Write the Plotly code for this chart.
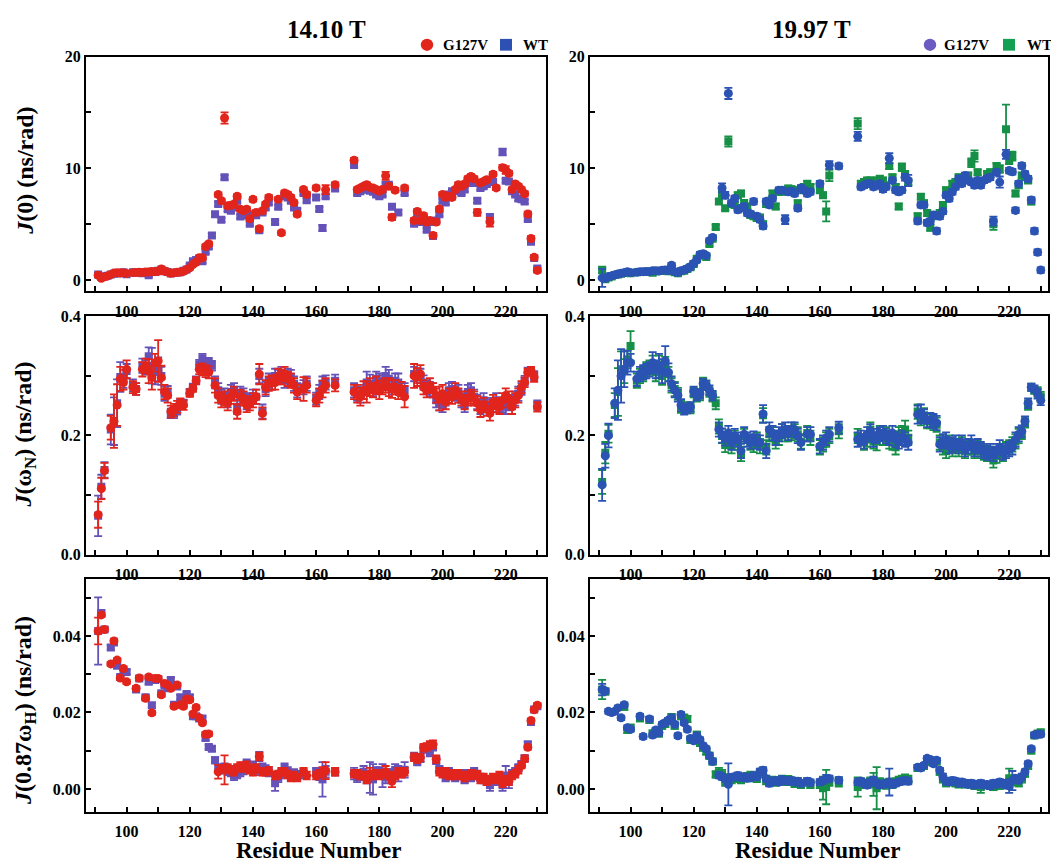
import plotly.graph_objects as go

# ---------------- data ----------------
RES = [91, 92, 93, 94, 95, 96, 97, 98, 99, 100,
       102, 103, 104, 105, 106, 107, 108, 109, 110, 111,
       112, 113, 114, 115, 116, 117, 118, 119, 120, 121,
       122, 123, 124, 125, 126, 127, 128, 129, 130, 131,
       132, 133, 134, 135, 136, 137, 138, 139, 140, 141,
       142, 143, 144, 145, 146, 147, 148, 149, 150, 151,
       152, 153, 154, 155, 156, 157,
       160, 161, 162, 163, 164, 166,
       172, 173, 174, 175, 176, 177, 178, 179, 180, 181,
       182, 183, 184, 185, 186, 187, 188,
       191, 192, 193, 194, 195, 196, 197, 198, 199, 200,
       201, 202, 203, 204, 205, 206, 207, 208, 209, 210,
       211, 212, 213, 214, 215, 216, 217, 218, 219, 220,
       221, 222, 223, 224, 225, 226, 227, 228, 229, 230]

N = None

# J(0), 14.10 T
J0_1410_G127V = [0.44, 0.17, 0.30, 0.38, 0.50, 0.65, 0.67, 0.64, 0.66, 0.60,
                 0.67, 0.68, 0.70, 0.68, 0.72, 0.73, 0.78, 0.76, 0.80, 1.00,
                 0.82, 0.72, 0.62, 0.66, 0.70, 0.72, 0.80, 0.95, 1.10, 1.40,
                 1.60, 2.00, 2.00, 3.00, 3.25, N, N, 7.65, 7.10, 14.50,
                 6.65, 6.70, 6.80, 7.50, 6.35, 6.20, 6.35, 5.50, 7.23, 6.06,
                 4.60, 6.20, 6.80, 7.40, N, N, 7.23, 4.23, 7.80, 7.67,
                 7.40, 6.94, 5.90, N, 8.10, 7.67,
                 8.25, N, N, 8.10, N, 8.54,
                 10.73, 8.10, 8.25, 8.40, 8.54, 8.30, 8.25, 8.10, 7.96, 8.10,
                 9.33, 8.40, 5.63, 8.05, N, N, 8.25,
                 5.34, 6.15, 5.34, 5.77, 5.20, 5.34, 4.00, 5.20, 6.36, 7.67,
                 7.40, 7.50, 7.40, 8.10, 8.54, 8.40, 8.60, 9.07, 9.27, 9.07,
                 6.06, 8.70, 8.83, 8.98, 5.20, 9.48, 8.25, N, 10.06, 9.85,
                 9.56, 8.10, 8.60, 8.40, 8.10, 7.73, 5.92, 3.73, 2.04, 0.87]
J0_1410_G127V_ERR = [0.15, 0.15, 0.15, 0.15, 0.15, 0.15, 0.15, 0.15, 0.15, 0.15,
                     0.15, 0.15, 0.15, 0.15, 0.15, 0.15, 0.15, 0.15, 0.15, 0.15,
                     0.15, 0.15, 0.15, 0.15, 0.15, 0.15, 0.15, 0.15, 0.15, 0.15,
                     0.18, 0.18, 0.18, 0.20, 0.20, 0.20, 0.20, 0.20, 0.20, 0.50,
                     0.20, 0.20, 0.20, 0.20, 0.20, 0.20, 0.20, 0.20, 0.20, 0.20,
                     0.20, 0.20, 0.20, 0.20, 0.20, 0.20, 0.20, 0.20, 0.20, 0.20,
                     0.20, 0.20, 0.20, 0.20, 0.20, 0.20,
                     0.20, 0.20, 0.20, 0.40, 0.20, 0.20,
                     0.20, 0.20, 0.20, 0.20, 0.20, 0.20, 0.20, 0.20, 0.20, 0.20,
                     0.35, 0.20, 0.25, 0.20, 0.20, 0.20, 0.20,
                     0.20, 0.20, 0.20, 0.20, 0.20, 0.20, 0.20, 0.20, 0.20, 0.20,
                     0.20, 0.20, 0.20, 0.20, 0.20, 0.20, 0.20, 0.20, 0.20, 0.20,
                     0.30, 0.20, 0.20, 0.20, 0.40, 0.20, 0.20, 0.20, 0.25, 0.35,
                     0.20, 0.20, 0.20, 0.20, 0.20, 0.20, 0.20, 0.20, 0.20, 0.20]
J0_1410_WT = [0.50, 0.30, 0.32, 0.40, 0.50, 0.58, 0.62, 0.62, 0.70, 0.52,
              0.70, 0.70, 0.68, 0.62, 0.72, 0.44, 0.76, 0.74, 0.85, 0.95,
              0.80, 0.74, 0.60, 0.64, 0.68, 0.70, 0.85, 0.95, 1.30, 1.70,
              1.80, 1.95, 1.70, 2.55, 3.00, 4.00, 5.90, 6.80, 5.40, 9.20,
              6.35, 6.20, 6.50, 7.10, 5.70, 5.80, 5.80, 5.05, 5.90, 5.80,
              4.46, 6.06, 6.50, 6.94, N, 5.20, 6.56, N, 7.50, 7.40,
              7.10, 6.50, 6.20, N, 7.80, 7.14,
              7.40, 6.36, 4.66, 7.50, N, 8.20,
              10.30, 7.80, 7.96, 8.10, 8.10, 8.00, 7.90, 7.67, 7.50, 7.67,
              8.54, 8.54, 6.56, N, 6.06, N, 7.80,
              5.05, 5.90, 5.20, 5.50, 4.50, 5.20, 3.94, 5.34, 5.90, 7.10,
              6.94, 7.67, 7.96, 7.96, 8.25, 7.80, 8.10, 8.70, 8.83, 8.70,
              7.10, 8.25, 8.40, 8.60, 5.63, 8.77, N, N, 11.46, 8.90,
              8.83, 7.96, 7.67, 7.30, 7.23, 7.03, 5.48, 3.44, 1.98, 1.05]
J0_1410_WT_ERR = [0.15, 0.15, 0.15, 0.15, 0.15, 0.15, 0.15, 0.15, 0.15, 0.15,
                  0.15, 0.15, 0.15, 0.15, 0.15, 0.15, 0.15, 0.15, 0.15, 0.15,
                  0.15, 0.15, 0.15, 0.15, 0.15, 0.15, 0.15, 0.15, 0.15, 0.15,
                  0.15, 0.15, 0.15, 0.18, 0.18, 0.18, 0.18, 0.18, 0.18, 0.20,
                  0.18, 0.18, 0.18, 0.18, 0.18, 0.18, 0.18, 0.18, 0.18, 0.18,
                  0.18, 0.18, 0.18, 0.18, 0.18, 0.18, 0.18, 0.18, 0.18, 0.18,
                  0.18, 0.18, 0.18, 0.18, 0.18, 0.18,
                  0.18, 0.18, 0.25, 0.18, 0.18, 0.18,
                  0.18, 0.18, 0.18, 0.18, 0.18, 0.18, 0.18, 0.18, 0.18, 0.18,
                  0.18, 0.18, 0.20, 0.18, 0.18, 0.18, 0.18,
                  0.18, 0.18, 0.18, 0.18, 0.18, 0.18, 0.18, 0.18, 0.18, 0.18,
                  0.18, 0.18, 0.18, 0.18, 0.18, 0.18, 0.18, 0.18, 0.18, 0.18,
                  0.20, 0.18, 0.18, 0.18, 0.30, 0.18, 0.18, 0.18, 0.30, 0.18,
                  0.18, 0.18, 0.18, 0.18, 0.18, 0.18, 0.18, 0.18, 0.18, 0.18]

# J(0), 19.97 T
J0_1997_G127V = [0.20, 0.17, 0.32, 0.38, 0.47, 0.55, 0.61, 0.67, 0.76, 0.67,
                 0.70, 0.76, 0.76, 0.78, 0.76, 0.85, 0.85, 0.82, 0.88, 0.90,
                 0.85, 1.34, 0.76, 0.67, 0.85, 0.90, 1.05, 1.20, 1.49, 1.80,
                 2.30, 2.36, 2.20, 3.53, 3.82, N, N, 8.25, 7.60, 16.70,
                 6.88, 7.30, 6.30, 6.44, 6.59, 6.00, 5.92, 7.03, 5.71, 5.42,
                 4.84, 7.03, 6.73, 7.30, N, 8.05, 8.05, 5.42, 7.90, 7.95,
                 7.75, 6.44, 8.25, 8.05, 7.75, 7.90,
                 8.63, N, N, 10.30, N, 10.20,
                 12.86, 8.34, 8.48, 8.63, 8.63, 8.34, 8.48, 8.63, 8.13, 8.34,
                 10.90, 8.92, 8.05, 7.90, 8.05, 9.20, 8.92,
                 5.28, 6.73, 6.73, 5.13, 5.28, 5.83, 4.40, 5.71, 6.15, 7.60,
                 7.30, 7.90, 8.34, 9.07, 8.63, 9.36, 8.92, 8.77, 8.48, 8.92,
                 8.48, 8.92, 9.07, 9.20, 5.28, 9.65, 8.77, N, 11.25, 9.80,
                 9.70, 6.24, 8.63, 10.23, 9.50, 9.07, 7.17, 4.40, 2.50, 0.90]
J0_1997_G127V_ERR = [0.80, 0.20, 0.20, 0.20, 0.20, 0.20, 0.20, 0.20, 0.20, 0.20,
                     0.20, 0.20, 0.20, 0.20, 0.20, 0.20, 0.20, 0.20, 0.20, 0.20,
                     0.20, 0.20, 0.20, 0.20, 0.20, 0.20, 0.20, 0.20, 0.20, 0.20,
                     0.20, 0.20, 0.20, 0.20, 0.20, 0.20, 0.20, 0.40, 0.30, 0.50,
                     0.25, 0.25, 0.25, 0.25, 0.25, 0.25, 0.25, 0.25, 0.25, 0.25,
                     0.25, 0.25, 0.25, 0.25, 0.20, 0.25, 0.25, 0.40, 0.25, 0.25,
                     0.25, 0.25, 0.25, 0.25, 0.25, 0.25,
                     0.25, 0.20, 0.20, 0.35, 0.20, 0.25,
                     0.40, 0.25, 0.25, 0.25, 0.25, 0.25, 0.25, 0.25, 0.25, 0.25,
                     0.45, 0.25, 0.25, 0.25, 0.25, 0.30, 0.50,
                     0.25, 0.25, 0.25, 0.25, 0.25, 0.25, 0.25, 0.25, 0.25, 0.25,
                     0.25, 0.25, 0.25, 0.25, 0.25, 0.25, 0.25, 0.25, 0.25, 0.25,
                     0.25, 0.25, 0.25, 0.25, 0.40, 0.25, 0.50, 0.20, 0.40, 0.25,
                     0.25, 0.25, 0.25, 0.25, 0.25, 0.25, 0.25, 0.25, 0.25, 0.25]
J0_1997_WT = [0.90, 0.09, 0.23, 0.32, 0.45, 0.50, 0.58, 0.64, 0.70, 0.61,
              0.70, 0.72, 0.74, 0.76, 0.74, 0.67, 0.80, 0.82, 0.85, 0.85,
              0.80, 1.10, 0.70, 0.62, 0.80, 0.85, 1.00, 1.15, 1.45, 1.92,
              2.20, 2.30, 2.07, 3.24, 3.70, 4.75, 7.03, 7.70, 6.44, 12.40,
              6.80, 6.73, 7.60, 7.75, 6.90, 6.59, 5.83, 5.71, 5.56, 5.60,
              5.00, 6.80, 7.10, 7.75, 6.59, 7.90, 7.90, N, 8.20, 8.13,
              8.05, 6.88, 8.05, 8.34, 8.63, 8.34,
              8.05, 7.60, 6.15, 9.36, N, N,
              14.00, 8.63, 8.77, 8.92, 8.92, 8.77, 8.92, 9.07, 8.92, 8.48,
              10.20, 9.20, 8.34, 6.59, 10.10, 9.50, 8.77,
              5.71, 7.46, 6.88, 6.00, 4.69, 5.71, N, 6.00, 6.73, 8.05,
              7.90, 8.63, 8.77, 9.20, 9.07, 9.12, 9.36, 10.50, 11.10, 9.65,
              N, N, 9.50, 9.65, 4.99, 10.20, 9.94, N, 13.50, 10.67,
              11.10, 7.75, 8.48, 9.36, 9.20, 8.92, 7.03, N, N, N]
J0_1997_WT_ERR = [0.30, 0.20, 0.20, 0.20, 0.20, 0.20, 0.20, 0.20, 0.20, 0.20,
                  0.20, 0.20, 0.20, 0.20, 0.20, 0.20, 0.20, 0.20, 0.20, 0.20,
                  0.20, 0.20, 0.20, 0.20, 0.20, 0.20, 0.20, 0.20, 0.20, 0.20,
                  0.20, 0.20, 0.20, 0.20, 0.20, 0.20, 0.20, 0.20, 0.20, 0.45,
                  0.25, 0.25, 0.25, 0.25, 0.25, 0.25, 0.25, 0.25, 0.25, 0.25,
                  0.25, 0.25, 0.25, 0.25, 0.25, 0.25, 0.25, 0.25, 0.25, 0.25,
                  0.25, 0.25, 0.25, 0.25, 0.25, 0.25,
                  0.25, 0.25, 0.90, 0.50, 0.20, 0.20,
                  0.50, 0.25, 0.25, 0.25, 0.25, 0.25, 0.25, 0.25, 0.25, 0.25,
                  0.25, 0.25, 0.25, 0.25, 0.35, 0.25, 0.25,
                  0.25, 0.25, 0.25, 0.25, 0.25, 0.25, 0.25, 0.25, 0.25, 0.25,
                  0.25, 0.25, 0.25, 0.25, 0.25, 0.25, 0.25, 0.40, 0.50, 0.25,
                  0.20, 0.20, 0.25, 0.25, 0.50, 0.25, 0.35, 0.20, 2.20, 0.30,
                  0.40, 0.25, 0.25, 0.25, 0.25, 0.25, 0.25, 0.20, 0.20, 0.20]

# J(wN), 14.10 T
JN_1410_G127V = [0.067, 0.111, 0.141, N, 0.213, 0.224, 0.251, 0.295, 0.289, 0.311,
                 0.281, 0.278, N, 0.311, 0.317, 0.308, 0.297, 0.322, 0.325, 0.297,
                 0.273, 0.267, 0.240, 0.243, 0.248, 0.254, 0.251, N, 0.271, 0.279,
                 0.292, 0.311, 0.311, 0.308, 0.306, N, 0.284, 0.267, 0.259, 0.262,
                 0.254, 0.265, 0.270, 0.240, 0.265, 0.262, 0.251, 0.254, 0.259, 0.265,
                 0.303, 0.237, 0.281, 0.287, 0.289, 0.289, 0.300, 0.298, 0.303, 0.295,
                 0.292, 0.284, 0.273, N, 0.278, 0.284,
                 0.259, 0.267, 0.278, 0.284, N, 0.284,
                 0.273, 0.270, 0.265, 0.276, 0.273, 0.281, 0.276, 0.284, 0.276, 0.281,
                 0.284, 0.281, 0.278, 0.281, 0.273, 0.278, 0.265,
                 0.300, 0.298, 0.303, 0.281, 0.276, 0.284, 0.276, 0.267, 0.262, 0.270,
                 0.256, 0.267, 0.265, 0.276, 0.267, 0.262, 0.256, 0.262, 0.265, 0.262,
                 0.254, 0.243, 0.251, 0.245, 0.237, 0.256, 0.251, 0.248, 0.259, 0.267,
                 0.262, 0.248, 0.259, 0.267, 0.281, 0.289, 0.306, 0.309, 0.298, 0.248]
JN_1410_G127V_ERR = [0.022, 0.018, 0.013, 0.012, 0.020, 0.045, 0.035, 0.020, 0.012, 0.015,
                     0.010, 0.010, 0.010, 0.012, 0.012, 0.020, 0.020, 0.015, 0.035, 0.020,
                     0.012, 0.012, 0.010, 0.010, 0.010, 0.008, 0.008, 0.008, 0.006, 0.006,
                     0.006, 0.008, 0.010, 0.010, 0.010, 0.010, 0.012, 0.012, 0.012, 0.012,
                     0.012, 0.012, 0.012, 0.012, 0.012, 0.012, 0.012, 0.012, 0.012, 0.012,
                     0.017, 0.010, 0.012, 0.012, 0.012, 0.012, 0.012, 0.012, 0.012, 0.012,
                     0.012, 0.012, 0.012, 0.012, 0.020, 0.012,
                     0.010, 0.012, 0.014, 0.012, 0.012, 0.010,
                     0.012, 0.015, 0.015, 0.015, 0.018, 0.015, 0.012, 0.015, 0.015, 0.012,
                     0.012, 0.015, 0.015, 0.012, 0.012, 0.012, 0.018,
                     0.020, 0.015, 0.015, 0.012, 0.012, 0.012, 0.012, 0.012, 0.020, 0.015,
                     0.012, 0.012, 0.012, 0.012, 0.012, 0.012, 0.012, 0.012, 0.012, 0.012,
                     0.012, 0.012, 0.012, 0.012, 0.012, 0.012, 0.012, 0.012, 0.012, 0.012,
                     0.012, 0.012, 0.012, 0.012, 0.010, 0.008, 0.006, 0.006, 0.008, 0.008]
JN_1410_WT = [0.065, 0.114, 0.142, N, 0.210, 0.224, 0.254, 0.298, 0.295, 0.308,
              0.284, 0.278, N, 0.317, 0.314, 0.333, 0.317, 0.306, 0.311, 0.300,
              0.270, 0.273, 0.237, 0.237, 0.243, 0.255, 0.254, N, 0.272, 0.281,
              0.293, 0.319, 0.329, 0.322, 0.322, 0.317, 0.289, 0.276, 0.265, 0.267,
              0.259, 0.273, 0.276, 0.248, 0.270, 0.267, 0.256, 0.259, 0.265, 0.265,
              0.300, 0.240, 0.278, 0.292, 0.289, 0.300, 0.298, 0.303, 0.292, 0.300,
              0.298, 0.287, 0.276, N, 0.281, 0.287,
              0.262, 0.273, 0.287, 0.289, N, 0.292,
              0.276, 0.270, 0.267, 0.273, 0.289, 0.287, 0.278, 0.295, 0.292, 0.289,
              0.300, 0.295, 0.281, 0.292, 0.289, 0.278, 0.276,
              0.303, 0.300, 0.300, 0.289, 0.281, 0.278, 0.276, 0.259, 0.254, 0.251,
              0.262, 0.276, 0.278, 0.270, 0.273, 0.259, 0.251, 0.273, 0.276, 0.265,
              0.256, 0.248, 0.259, 0.251, 0.248, 0.251, 0.259, 0.251, 0.251, 0.248,
              0.254, 0.256, 0.262, 0.270, 0.278, 0.292, 0.308, 0.308, 0.300, 0.251]
JN_1410_WT_ERR = [0.034, 0.020, 0.013, 0.012, 0.025, 0.040, 0.040, 0.025, 0.015, 0.012,
                  0.010, 0.010, 0.010, 0.012, 0.012, 0.015, 0.030, 0.020, 0.020, 0.015,
                  0.012, 0.010, 0.008, 0.008, 0.008, 0.006, 0.006, 0.006, 0.006, 0.006,
                  0.006, 0.008, 0.008, 0.008, 0.008, 0.008, 0.010, 0.012, 0.012, 0.012,
                  0.012, 0.012, 0.012, 0.012, 0.012, 0.012, 0.012, 0.012, 0.012, 0.012,
                  0.012, 0.012, 0.012, 0.012, 0.012, 0.012, 0.012, 0.012, 0.012, 0.012,
                  0.012, 0.012, 0.012, 0.012, 0.012, 0.012,
                  0.010, 0.012, 0.012, 0.012, 0.012, 0.010,
                  0.012, 0.012, 0.012, 0.012, 0.018, 0.015, 0.012, 0.012, 0.012, 0.012,
                  0.015, 0.015, 0.012, 0.012, 0.015, 0.012, 0.012,
                  0.012, 0.012, 0.012, 0.012, 0.012, 0.012, 0.012, 0.012, 0.012, 0.012,
                  0.012, 0.012, 0.012, 0.012, 0.012, 0.012, 0.012, 0.012, 0.012, 0.012,
                  0.012, 0.012, 0.012, 0.012, 0.012, 0.012, 0.012, 0.012, 0.012, 0.012,
                  0.012, 0.012, 0.012, 0.012, 0.010, 0.008, 0.006, 0.006, 0.008, 0.008]

# J(wN), 19.97 T
JN_1997_G127V = [0.117, 0.166, 0.200, N, 0.254, 0.276, 0.300, 0.311, 0.322, 0.322,
                 0.295, 0.303, 0.306, 0.308, 0.311, 0.322, 0.311, 0.317, 0.308, 0.325,
                 0.306, 0.287, 0.276, 0.267, 0.251, 0.243, 0.245, 0.248, 0.274, 0.267,
                 0.270, 0.287, 0.284, 0.276, 0.267, N, 0.210, 0.200, 0.195, 0.204,
                 0.188, 0.199, 0.193, 0.174, 0.202, 0.193, 0.190, 0.195, 0.190, 0.188,
                 0.236, 0.174, 0.210, 0.204, 0.196, 0.202, 0.207, 0.210, 0.204, 0.210,
                 0.210, 0.199, 0.188, N, 0.202, 0.202,
                 0.182, 0.188, 0.196, 0.202, N, 0.213,
                 0.193, 0.196, 0.190, 0.202, 0.207, 0.193, 0.199, 0.202, 0.204, 0.199,
                 0.196, 0.204, 0.193, 0.190, 0.196, 0.193, 0.188,
                 0.235, 0.237, 0.232, 0.226, 0.226, 0.224, 0.221, 0.185, 0.190, 0.193,
                 0.182, 0.185, 0.188, 0.182, 0.188, 0.177, 0.182, 0.188, 0.177, 0.182,
                 0.177, 0.174, 0.171, 0.174, 0.169, 0.174, 0.180, 0.171, 0.174, 0.177,
                 0.180, 0.193, 0.202, 0.207, 0.224, 0.254, 0.281, 0.278, 0.270, 0.259]
JN_1997_G127V_ERR = [0.027, 0.020, 0.020, 0.012, 0.025, 0.050, 0.045, 0.030, 0.020, 0.015,
                     0.012, 0.012, 0.012, 0.012, 0.012, 0.018, 0.015, 0.020, 0.020, 0.025,
                     0.015, 0.012, 0.012, 0.010, 0.010, 0.008, 0.008, 0.008, 0.008, 0.008,
                     0.008, 0.008, 0.008, 0.008, 0.008, 0.010, 0.012, 0.012, 0.012, 0.012,
                     0.012, 0.012, 0.012, 0.012, 0.012, 0.012, 0.012, 0.012, 0.012, 0.012,
                     0.015, 0.012, 0.012, 0.012, 0.012, 0.012, 0.012, 0.012, 0.012, 0.012,
                     0.012, 0.012, 0.012, 0.012, 0.012, 0.012,
                     0.012, 0.012, 0.012, 0.012, 0.012, 0.010,
                     0.012, 0.012, 0.012, 0.012, 0.012, 0.012, 0.012, 0.012, 0.012, 0.012,
                     0.012, 0.012, 0.012, 0.012, 0.012, 0.012, 0.012,
                     0.015, 0.015, 0.012, 0.012, 0.012, 0.012, 0.012, 0.012, 0.012, 0.012,
                     0.012, 0.012, 0.012, 0.012, 0.012, 0.012, 0.012, 0.012, 0.012, 0.012,
                     0.012, 0.012, 0.012, 0.012, 0.012, 0.012, 0.012, 0.012, 0.012, 0.012,
                     0.012, 0.012, 0.012, 0.010, 0.008, 0.008, 0.006, 0.006, 0.008, 0.008]
JN_1997_WT = [0.122, 0.171, 0.203, N, 0.251, 0.273, 0.311, 0.308, 0.328, 0.350,
              0.292, 0.300, 0.303, 0.311, 0.314, 0.319, 0.306, 0.319, 0.300, 0.317,
              0.303, 0.284, 0.278, 0.270, 0.248, 0.245, 0.248, 0.245, 0.272, 0.265,
              0.267, 0.289, 0.284, 0.273, 0.265, 0.254, 0.215, 0.199, 0.184, 0.193,
              0.182, 0.196, 0.188, 0.169, 0.199, N, 0.188, 0.184, 0.193, 0.182,
              0.234, 0.180, 0.202, 0.202, 0.190, 0.196, 0.207, 0.202, 0.202, 0.204,
              0.207, 0.202, 0.190, N, 0.204, 0.196,
              0.180, 0.185, 0.193, 0.199, N, 0.207,
              0.199, N, 0.188, 0.193, 0.210, 0.190, 0.190, 0.204, 0.196, 0.202,
              0.190, 0.188, 0.180, 0.202, 0.204, 0.210, 0.196,
              0.240, 0.229, 0.234, 0.224, 0.224, 0.221, 0.218, 0.188, 0.180, 0.174,
              0.188, 0.177, 0.182, 0.177, 0.185, 0.174, 0.180, 0.180, 0.174, 0.180,
              0.174, 0.171, 0.169, 0.169, 0.158, 0.166, 0.174, 0.169, 0.177, 0.180,
              0.185, 0.190, 0.199, 0.204, 0.221, 0.251, 0.281, 0.276, 0.273, 0.265]
JN_1997_WT_ERR = [0.020, 0.018, 0.015, 0.012, 0.020, 0.040, 0.030, 0.020, 0.015, 0.025,
                  0.012, 0.012, 0.012, 0.012, 0.012, 0.015, 0.015, 0.015, 0.015, 0.015,
                  0.012, 0.012, 0.012, 0.010, 0.010, 0.008, 0.008, 0.008, 0.008, 0.008,
                  0.008, 0.008, 0.008, 0.008, 0.008, 0.010, 0.012, 0.012, 0.012, 0.012,
                  0.012, 0.012, 0.012, 0.012, 0.012, 0.012, 0.012, 0.012, 0.012, 0.012,
                  0.012, 0.012, 0.012, 0.012, 0.012, 0.012, 0.012, 0.012, 0.012, 0.012,
                  0.012, 0.012, 0.012, 0.012, 0.012, 0.012,
                  0.012, 0.012, 0.012, 0.012, 0.012, 0.012,
                  0.012, 0.012, 0.012, 0.012, 0.012, 0.012, 0.015, 0.012, 0.012, 0.012,
                  0.012, 0.012, 0.012, 0.012, 0.012, 0.015, 0.012,
                  0.012, 0.012, 0.012, 0.012, 0.012, 0.012, 0.012, 0.012, 0.012, 0.012,
                  0.012, 0.012, 0.012, 0.012, 0.012, 0.012, 0.012, 0.012, 0.012, 0.012,
                  0.012, 0.012, 0.012, 0.012, 0.012, 0.012, 0.012, 0.012, 0.012, 0.012,
                  0.012, 0.012, 0.012, 0.010, 0.008, 0.008, 0.006, 0.006, 0.008, 0.008]

# J(0.87wH), 14.10 T
JH_1410_G127V = [0.0413, 0.0455, 0.0417, N, 0.0327, 0.0387, 0.0337, 0.0290, 0.0315, 0.0280,
                 N, 0.0263, 0.0290, N, 0.0237, 0.0293, 0.0199, 0.0289, 0.0289, 0.0246,
                 0.0276, 0.0272, 0.0263, 0.0216, 0.0272, 0.0220, 0.0216, 0.0235, 0.0233, 0.0196,
                 0.0213, 0.0186, 0.0173, 0.0143, 0.0144, N, N, 0.0045, 0.0053, 0.0050,
                 0.0055, 0.0050, 0.0045, 0.0055, 0.0060, 0.0055, 0.0062, 0.0050, 0.0045, 0.0055,
                 0.0085, 0.0045, 0.0045, 0.0048, N, 0.0035, 0.0038, 0.0045, 0.0045, 0.0038,
                 0.0030, 0.0035, 0.0030, N, 0.0045, 0.0035,
                 0.0035, 0.0040, 0.0045, 0.0048, N, 0.0045,
                 0.0040, 0.0040, 0.0035, 0.0035, 0.0025, 0.0040, 0.0035, 0.0040, 0.0035, 0.0040,
                 0.0045, 0.0035, 0.0020, 0.0035, 0.0045, 0.0040, 0.0045,
                 0.0083, 0.0078, 0.0082, 0.0108, 0.0110, 0.0115, 0.0117, 0.0078, 0.0045, 0.0040,
                 0.0045, 0.0035, 0.0040, 0.0035, 0.0040, 0.0035, 0.0030, 0.0035, 0.0040, 0.0035,
                 0.0038, 0.0025, 0.0030, 0.0020, 0.0025, 0.0030, 0.0025, 0.0035, 0.0015, 0.0025,
                 0.0020, 0.0035, 0.0040, 0.0050, 0.0062, 0.0079, 0.0109, 0.0179, 0.0207, 0.0219]
JH_1410_G127V_ERR = [0.0035, 0.0005, 0.0005, 0.0005, 0.0005, 0.0006, 0.0005, 0.0005, 0.0005, 0.0005,
                     0.0005, 0.0005, 0.0005, 0.0005, 0.0005, 0.0005, 0.0005, 0.0005, 0.0005, 0.0005,
                     0.0005, 0.0005, 0.0005, 0.0005, 0.0005, 0.0005, 0.0005, 0.0005, 0.0005, 0.0005,
                     0.0005, 0.0005, 0.0005, 0.0006, 0.0006, 0.0006, 0.0008, 0.0018, 0.0010, 0.0038,
                     0.0010, 0.0010, 0.0010, 0.0010, 0.0010, 0.0010, 0.0010, 0.0010, 0.0010, 0.0010,
                     0.0010, 0.0010, 0.0010, 0.0010, 0.0010, 0.0010, 0.0010, 0.0010, 0.0010, 0.0010,
                     0.0010, 0.0010, 0.0010, 0.0010, 0.0010, 0.0010,
                     0.0010, 0.0010, 0.0012, 0.0022, 0.0010, 0.0010,
                     0.0010, 0.0010, 0.0010, 0.0010, 0.0010, 0.0015, 0.0010, 0.0010, 0.0010, 0.0010,
                     0.0015, 0.0010, 0.0015, 0.0010, 0.0010, 0.0010, 0.0010,
                     0.0010, 0.0010, 0.0010, 0.0010, 0.0010, 0.0010, 0.0010, 0.0010, 0.0010, 0.0010,
                     0.0010, 0.0010, 0.0010, 0.0010, 0.0010, 0.0010, 0.0010, 0.0010, 0.0010, 0.0010,
                     0.0010, 0.0010, 0.0010, 0.0010, 0.0010, 0.0010, 0.0010, 0.0010, 0.0010, 0.0010,
                     0.0010, 0.0010, 0.0010, 0.0010, 0.0008, 0.0008, 0.0006, 0.0005, 0.0005, 0.0005]
JH_1410_WT = [0.0413, 0.0460, 0.0417, N, 0.0370, 0.0383, 0.0322, 0.0293, 0.0306, 0.0306,
              N, 0.0260, 0.0289, N, 0.0240, 0.0280, 0.0219, 0.0285, 0.0287, 0.0250,
              0.0272, 0.0263, 0.0285, 0.0220, 0.0268, 0.0240, 0.0228, 0.0248, 0.0240, 0.0190,
              0.0190, 0.0184, 0.0184, 0.0133, 0.0110, 0.0105, 0.0075, 0.0055, 0.0050, 0.0055,
              0.0048, 0.0045, 0.0035, 0.0040, 0.0045, 0.0050, 0.0065, 0.0055, 0.0060, 0.0048,
              0.0085, 0.0055, 0.0050, 0.0045, N, 0.0015, 0.0030, 0.0040, 0.0055, 0.0045,
              0.0035, 0.0040, 0.0035, N, 0.0040, N,
              0.0045, 0.0035, 0.0025, 0.0045, N, 0.0045,
              0.0040, 0.0030, 0.0035, 0.0045, 0.0030, 0.0030, 0.0025, 0.0045, 0.0045, 0.0035,
              0.0030, 0.0040, 0.0040, 0.0050, 0.0040, 0.0045, 0.0050,
              0.0085, 0.0072, 0.0080, 0.0105, 0.0105, 0.0095, 0.0110, 0.0075, 0.0050, 0.0045,
              0.0030, 0.0045, 0.0035, 0.0030, 0.0035, 0.0040, 0.0025, 0.0040, 0.0030, 0.0045,
              0.0035, 0.0030, 0.0025, 0.0020, 0.0010, 0.0025, 0.0020, 0.0025, 0.0010, 0.0035,
              0.0020, 0.0040, 0.0045, 0.0055, 0.0065, 0.0080, 0.0117, 0.0175, 0.0208, 0.0216]
JH_1410_WT_ERR = [0.0088, 0.0006, 0.0006, 0.0006, 0.0006, 0.0006, 0.0006, 0.0006, 0.0006, 0.0006,
                  0.0006, 0.0006, 0.0006, 0.0006, 0.0006, 0.0006, 0.0006, 0.0006, 0.0006, 0.0006,
                  0.0006, 0.0006, 0.0006, 0.0006, 0.0006, 0.0006, 0.0006, 0.0006, 0.0006, 0.0006,
                  0.0006, 0.0006, 0.0006, 0.0006, 0.0006, 0.0006, 0.0008, 0.0010, 0.0010, 0.0012,
                  0.0012, 0.0012, 0.0012, 0.0012, 0.0012, 0.0012, 0.0012, 0.0012, 0.0012, 0.0012,
                  0.0012, 0.0012, 0.0012, 0.0012, 0.0012, 0.0020, 0.0012, 0.0012, 0.0012, 0.0012,
                  0.0012, 0.0012, 0.0012, 0.0012, 0.0012, 0.0012,
                  0.0010, 0.0012, 0.0045, 0.0015, 0.0010, 0.0010,
                  0.0015, 0.0012, 0.0012, 0.0015, 0.0015, 0.0040, 0.0040, 0.0012, 0.0012, 0.0030,
                  0.0015, 0.0012, 0.0012, 0.0015, 0.0020, 0.0012, 0.0020,
                  0.0010, 0.0010, 0.0010, 0.0010, 0.0010, 0.0010, 0.0010, 0.0010, 0.0010, 0.0010,
                  0.0010, 0.0010, 0.0010, 0.0010, 0.0010, 0.0010, 0.0010, 0.0010, 0.0010, 0.0010,
                  0.0010, 0.0010, 0.0010, 0.0010, 0.0015, 0.0010, 0.0010, 0.0010, 0.0015, 0.0025,
                  0.0018, 0.0010, 0.0010, 0.0010, 0.0008, 0.0008, 0.0006, 0.0005, 0.0005, 0.0005]

# J(0.87wH), 19.97 T
JH_1997_G127V = [0.0260, 0.0256, 0.0203, 0.0200, 0.0203, 0.0212, 0.0186, 0.0220, 0.0160, 0.0156,
                 N, 0.0190, 0.0137, N, 0.0183, 0.0141, 0.0154, 0.0147, 0.0169, 0.0173,
                 0.0180, 0.0186, 0.0169, 0.0139, 0.0195, 0.0173, 0.0156, 0.0132, 0.0126, 0.0139,
                 0.0129, 0.0113, 0.0105, 0.0087, 0.0072, N, 0.0036, 0.0032, 0.0027, 0.0012,
                 0.0030, 0.0032, 0.0035, 0.0030, 0.0032, 0.0028, 0.0030, 0.0035, 0.0032, 0.0045,
                 0.0049, 0.0027, 0.0015, 0.0020, 0.0022, 0.0018, 0.0025, 0.0022, 0.0020, 0.0022,
                 0.0018, 0.0020, 0.0015, N, 0.0020, 0.0017,
                 0.0018, 0.0022, 0.0027, 0.0027, N, 0.0023,
                 0.0018, 0.0020, 0.0015, 0.0010, 0.0018, 0.0022, 0.0015, 0.0010, 0.0012, 0.0015,
                 0.0018, 0.0012, 0.0015, 0.0018, 0.0020, 0.0022, 0.0020,
                 0.0057, 0.0055, 0.0062, 0.0080, 0.0077, 0.0066, 0.0075, 0.0049, 0.0032, 0.0020,
                 0.0018, 0.0022, 0.0020, 0.0015, 0.0018, 0.0015, 0.0012, 0.0015, 0.0010, 0.0012,
                 0.0015, 0.0010, 0.0012, 0.0008, 0.0015, 0.0012, 0.0018, 0.0015, 0.0010, 0.0008,
                 0.0022, 0.0028, 0.0023, 0.0032, 0.0045, 0.0066, 0.0105, 0.0141, 0.0143, 0.0143]
JH_1997_G127V_ERR = [0.0015, 0.0006, 0.0006, 0.0006, 0.0006, 0.0006, 0.0006, 0.0006, 0.0006, 0.0006,
                     0.0006, 0.0006, 0.0006, 0.0006, 0.0006, 0.0006, 0.0006, 0.0006, 0.0006, 0.0006,
                     0.0006, 0.0006, 0.0006, 0.0006, 0.0006, 0.0006, 0.0006, 0.0006, 0.0006, 0.0006,
                     0.0006, 0.0006, 0.0006, 0.0006, 0.0006, 0.0006, 0.0008, 0.0008, 0.0008, 0.0055,
                     0.0008, 0.0008, 0.0008, 0.0008, 0.0008, 0.0008, 0.0008, 0.0008, 0.0008, 0.0008,
                     0.0008, 0.0008, 0.0008, 0.0008, 0.0008, 0.0008, 0.0008, 0.0008, 0.0008, 0.0008,
                     0.0008, 0.0008, 0.0008, 0.0008, 0.0008, 0.0008,
                     0.0008, 0.0008, 0.0010, 0.0008, 0.0008, 0.0008,
                     0.0008, 0.0008, 0.0008, 0.0008, 0.0008, 0.0010, 0.0008, 0.0008, 0.0008, 0.0008,
                     0.0035, 0.0008, 0.0008, 0.0008, 0.0008, 0.0008, 0.0008,
                     0.0006, 0.0006, 0.0006, 0.0006, 0.0006, 0.0006, 0.0006, 0.0006, 0.0008, 0.0008,
                     0.0008, 0.0008, 0.0008, 0.0008, 0.0008, 0.0008, 0.0008, 0.0008, 0.0008, 0.0008,
                     0.0008, 0.0008, 0.0008, 0.0008, 0.0008, 0.0008, 0.0008, 0.0008, 0.0008, 0.0018,
                     0.0025, 0.0008, 0.0008, 0.0008, 0.0006, 0.0006, 0.0006, 0.0006, 0.0006, 0.0006]
JH_1997_WT = [0.0260, 0.0255, N, N, N, N, N, 0.0215, 0.0154, 0.0160,
              N, 0.0185, N, N, 0.0180, 0.0145, 0.0150, 0.0145, 0.0165, 0.0170,
              0.0178, 0.0188, 0.0165, N, 0.0190, 0.0186, 0.0183, 0.0128, 0.0128, 0.0142,
              0.0120, 0.0108, 0.0098, 0.0087, 0.0072, 0.0038, 0.0043, 0.0038, 0.0020, 0.0027,
              0.0025, 0.0028, 0.0030, 0.0025, 0.0030, 0.0032, 0.0035, 0.0030, 0.0028, 0.0040,
              0.0045, 0.0022, 0.0018, 0.0022, 0.0018, 0.0020, 0.0025, 0.0020, 0.0024, 0.0020,
              0.0015, 0.0018, 0.0012, N, 0.0018, 0.0012,
              0.0012, 0.0002, 0.0005, 0.0020, N, 0.0018,
              0.0005, 0.0015, 0.0012, 0.0015, 0.0020, 0.0012, 0.0002, 0.0018, 0.0015, 0.0010,
              0.0015, 0.0012, 0.0018, 0.0022, 0.0025, 0.0028, 0.0025,
              0.0055, 0.0057, 0.0060, 0.0075, 0.0072, 0.0070, 0.0072, 0.0045, 0.0025, 0.0015,
              0.0020, 0.0018, 0.0015, 0.0012, 0.0015, 0.0012, 0.0015, 0.0012, 0.0008, 0.0012,
              0.0005, 0.0010, 0.0010, 0.0008, 0.0005, 0.0010, 0.0008, 0.0012, 0.0010, 0.0028,
              0.0020, 0.0022, 0.0015, 0.0025, 0.0040, 0.0060, 0.0100, 0.0140, 0.0145, 0.0148]
JH_1997_WT_ERR = [0.0025, 0.0008, 0.0008, 0.0008, 0.0008, 0.0008, 0.0008, 0.0008, 0.0008, 0.0008,
                  0.0008, 0.0008, 0.0008, 0.0008, 0.0008, 0.0008, 0.0008, 0.0008, 0.0008, 0.0008,
                  0.0008, 0.0008, 0.0008, 0.0008, 0.0008, 0.0008, 0.0008, 0.0008, 0.0008, 0.0008,
                  0.0008, 0.0008, 0.0008, 0.0008, 0.0008, 0.0008, 0.0012, 0.0012, 0.0012, 0.0012,
                  0.0010, 0.0010, 0.0010, 0.0010, 0.0010, 0.0010, 0.0010, 0.0010, 0.0010, 0.0010,
                  0.0010, 0.0010, 0.0010, 0.0010, 0.0010, 0.0010, 0.0010, 0.0010, 0.0010, 0.0010,
                  0.0010, 0.0010, 0.0010, 0.0010, 0.0010, 0.0010,
                  0.0010, 0.0030, 0.0045, 0.0012, 0.0010, 0.0012,
                  0.0025, 0.0010, 0.0010, 0.0010, 0.0010, 0.0030, 0.0055, 0.0010, 0.0010, 0.0010,
                  0.0012, 0.0010, 0.0010, 0.0010, 0.0010, 0.0010, 0.0010,
                  0.0008, 0.0008, 0.0008, 0.0008, 0.0008, 0.0008, 0.0008, 0.0008, 0.0008, 0.0008,
                  0.0008, 0.0008, 0.0008, 0.0008, 0.0008, 0.0008, 0.0008, 0.0008, 0.0008, 0.0008,
                  0.0015, 0.0008, 0.0008, 0.0008, 0.0008, 0.0008, 0.0008, 0.0008, 0.0008, 0.0025,
                  0.0010, 0.0008, 0.0008, 0.0008, 0.0008, 0.0008, 0.0006, 0.0006, 0.0006, 0.0006]

for _name, _arr in list(globals().items()):
    if _name.startswith("J") and isinstance(_arr, list):
        if len(_arr) != len(RES):
            raise ValueError(f"{_name} has {len(_arr)} values, expected {len(RES)}")

FIELD_TITLES = ["14.10 T", "19.97 T"]
Y_TITLES = ["<i>J</i>(0) (ns/rad)", "<i>J</i>(ω<sub>N</sub>) (ns/rad)",
            "<i>J</i>(0.87ω<sub>H</sub>) (ns/rad)"]
X_TITLE = "Residue Number"
LEGEND_LABELS = ["G127V", "WT"]

# ---------------- styling ----------------
W, H = 1051, 867
FONT = "Liberation Serif"
RED = "#e1251d"
PURPLE = "#6552b8"
BLUE = "#2b53b3"
GREEN = "#168f47"
LEG_LEFT = [RED, "#2d51b2"]
LEG_RIGHT = ["#6a5ac2", "#13a052"]

X_DOM = [[86 / W, 546 / W], [590 / W, 1048 / W]]
X_RANGE = [[87.15, 232.75], [87.15, 232.3]]
Y_DOM = [[1 - 289 / H, 1 - 49.5 / H], [1 - 557.5 / H, 1 - 314.5 / H], [1 - 820 / H, 1 - 582 / H]]
Y_RANGE = [[-1.0, 20], [0, 0.4], [-0.006, 0.055]]
Y_DTICK = [10, 0.2, 0.02]
Y_MINOR = [5, 0.1, 0.01]
Y_FMT = ["d", ".1f", ".2f"]

panels = [
    # row, col, G127V values, err, WT values, err, G color, WT color
    (0, 0, J0_1410_G127V, J0_1410_G127V_ERR, J0_1410_WT, J0_1410_WT_ERR, RED, PURPLE),
    (0, 1, J0_1997_G127V, J0_1997_G127V_ERR, J0_1997_WT, J0_1997_WT_ERR, BLUE, GREEN),
    (1, 0, JN_1410_G127V, JN_1410_G127V_ERR, JN_1410_WT, JN_1410_WT_ERR, RED, PURPLE),
    (1, 1, JN_1997_G127V, JN_1997_G127V_ERR, JN_1997_WT, JN_1997_WT_ERR, BLUE, GREEN),
    (2, 0, JH_1410_G127V, JH_1410_G127V_ERR, JH_1410_WT, JH_1410_WT_ERR, RED, PURPLE),
    (2, 1, JH_1997_G127V, JH_1997_G127V_ERR, JH_1997_WT, JH_1997_WT_ERR, BLUE, GREEN),
]

fig = go.Figure()
layout = {}
for row, col, gv, ge, wv, we, gc, wc in panels:
    idx = row * 2 + col + 1
    sfx = "" if idx == 1 else str(idx)
    xa, ya = "x" + sfx, "y" + sfx
    # WT (squares) underneath, G127V (circles) on top
    fig.add_trace(go.Scatter(
        x=RES, y=wv, mode="markers", xaxis=xa, yaxis=ya, showlegend=False,
        name="WT", marker=dict(symbol="square", size=8, color=wc, line=dict(width=0)),
        error_y=dict(type="data", array=we, color=wc, thickness=1.8, width=4)))
    fig.add_trace(go.Scatter(
        x=RES, y=gv, mode="markers", xaxis=xa, yaxis=ya, showlegend=False,
        name="G127V", marker=dict(symbol="circle", size=9, color=gc, line=dict(width=0)),
        error_y=dict(type="data", array=ge, color=gc, thickness=1.8, width=4)))
    common = dict(showline=True, linecolor="black", linewidth=2, mirror=True,
                  ticks="inside", ticklen=5, tickwidth=1.5, tickcolor="black",
                  showgrid=False, zeroline=False,
                  tickfont=dict(family=FONT, size=16, color="black", weight="bold"))
    layout["xaxis" + sfx] = dict(
        domain=X_DOM[col], range=X_RANGE[col], anchor=ya,
        tickmode="linear", tick0=0, dtick=20, ticklabelstandoff=4,
        minor=dict(dtick=10, ticks="inside", ticklen=5, tickwidth=1.5, tickcolor="black"),
        **common)
    layout["yaxis" + sfx] = dict(
        domain=Y_DOM[row], range=Y_RANGE[row], anchor=xa,
        tickmode="linear", tick0=0, dtick=Y_DTICK[row], tickformat=Y_FMT[row],
        minor=dict(dtick=Y_MINOR[row], ticks="inside", ticklen=5, tickwidth=1.5, tickcolor="black"),
        **common)

annotations = []
def ann(text, x, y, size, angle=0, xanchor="center"):
    annotations.append(dict(
        text=text, x=x / W, y=1 - y / H, xref="paper", yref="paper",
        showarrow=False, textangle=angle, xanchor=xanchor, yanchor="middle",
        font=dict(family=FONT, size=size, color="black", weight="bold")))

ann(FIELD_TITLES[0], 326, 22, 25)
ann(FIELD_TITLES[1], 811, 22, 25)
ann(Y_TITLES[0], 25, 166, 24, angle=-90)
ann(Y_TITLES[1], 25, 435, 24, angle=-90)
ann(Y_TITLES[2], 25, 717, 24, angle=-90)
ann(X_TITLE, 318.5, 859, 23)
ann(X_TITLE, 817.5, 859, 23)

# legends (marker glyph + label) above each column
shapes = []
def leg_marker(kind, cx, cy, size, color):
    shapes.append(dict(
        type="circle" if kind == "circle" else "rect", xref="paper", yref="paper",
        x0=(cx - size / 2) / W, x1=(cx + size / 2) / W,
        y0=1 - (cy + size / 2) / H, y1=1 - (cy - size / 2) / H,
        fillcolor=color, line=dict(width=0)))

leg_marker("circle", 427, 37.5, 12.5, LEG_LEFT[0])
ann(LEGEND_LABELS[0], 441, 37.5, 15, xanchor="left")
leg_marker("square", 506, 37.5, 12, LEG_LEFT[1])
ann(LEGEND_LABELS[1], 521, 37.5, 15, xanchor="left")
leg_marker("circle", 930, 37.5, 12.5, LEG_RIGHT[0])
ann(LEGEND_LABELS[0], 942, 37.5, 15, xanchor="left")
leg_marker("square", 1009, 37.5, 12, LEG_RIGHT[1])
ann(LEGEND_LABELS[1], 1025, 37.5, 15, xanchor="left")

fig.update_layout(
    width=W, height=H, margin=dict(l=0, r=0, t=0, b=0),
    paper_bgcolor="white", plot_bgcolor="white",
    showlegend=False, annotations=annotations, shapes=shapes,
    font=dict(family=FONT, color="black"),
    **layout)

fig.write_html("out.html")
